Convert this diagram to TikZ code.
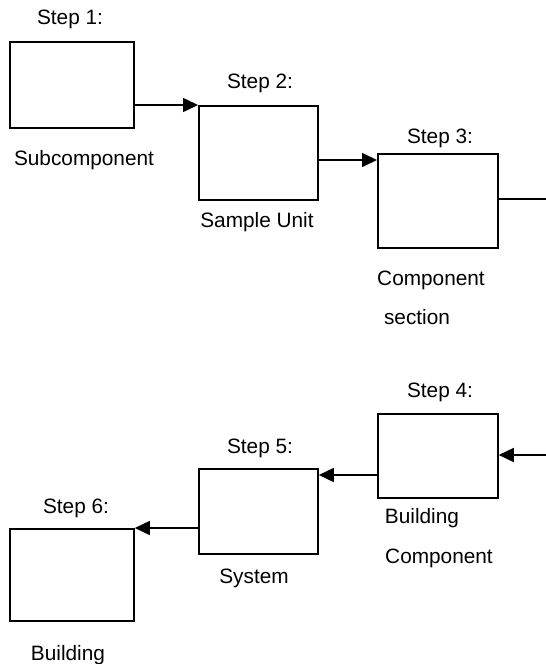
\documentclass[tikz,border=0pt]{standalone}
\usepackage{fontspec}
\setmainfont{Liberation Sans}
\usetikzlibrary{arrows.meta, positioning, calc}

\begin{document}
\begin{tikzpicture}[x=0.5pt, y=-0.5pt, font=\fontsize{10.4}{12}\selectfont,
  stepbox/.style={draw, line width=0.9pt, inner sep=0pt, anchor=north west},
  steplabel/.style={anchor=base},
  link/.style={line width=0.8pt, -{Triangle[length=7.5pt,width=7pt]}}]
  \useasboundingbox (0,0) rectangle (546,664);
  % upper row: steps 1--3
  \node[stepbox, minimum width=62pt,   minimum height=43pt]   (sub)  at (9,41)   {};
  \node[stepbox, minimum width=59.5pt, minimum height=47pt]   (unit) at (198,105) {};
  \node[stepbox, minimum width=60pt,   minimum height=47pt]   (sect) at (377,153) {};
  % lower row: steps 4--6
  \node[stepbox, minimum width=60pt,   minimum height=42pt]   (bcomp) at (377,413) {};
  \node[stepbox, minimum width=59.5pt, minimum height=42.5pt] (sys)   at (198,468) {};
  \node[stepbox, minimum width=62pt,   minimum height=46pt]   (bldg)  at (9,528)   {};
  % step titles
  \node[steplabel] (t1) at (70,25)  {Step 1:};
  \node[steplabel] (t2) at (260,88) {Step 2:};
  \node[steplabel] (t3) at (440,143) {Step 3:};
  \node[steplabel] (t4) at (440,397) {Step 4:};
  \node[steplabel] (t5) at (260,453) {Step 5:};
  \node[steplabel] (t6) at (76,513)  {Step 6:};
  % names under the boxes
  \node[steplabel] (n1)  at (84,165)  {Subcomponent};
  \node[steplabel] (n2)  at (257,227) {Sample Unit};
  \node[steplabel] (n3a) at (431,285) {Component};
  \node[steplabel] (n3b) at (417,324) {section};
  \node[steplabel] (n4a) at (422,523) {Building};
  \node[steplabel] (n4b) at (439,563) {Component};
  \node[steplabel] (n5)  at (254,583) {System};
  \node[steplabel] (n6)  at (68,660)  {Building};
  % connectors
  \coordinate (in3) at ($(sect.north west)+(0,7)$);
  \coordinate (in5) at ($(sys.north east)+(0,7)$);
  \coordinate (outR) at (546,199);
  \coordinate (inR)  at (546,455);
  \draw[link] (sub.east |- unit.north west) -- (unit.north west);
  \draw[link] (unit.east |- in3) -- (in3);
  \draw[line width=0.8pt] (sect.east |- outR) -- (outR);
  \draw[link] (inR) -- (bcomp.east |- inR);
  \draw[link] (bcomp.west |- in5) -- (in5);
  \draw[link] (sys.west |- bldg.north east) -- (bldg.north east);
\end{tikzpicture}
\end{document}
